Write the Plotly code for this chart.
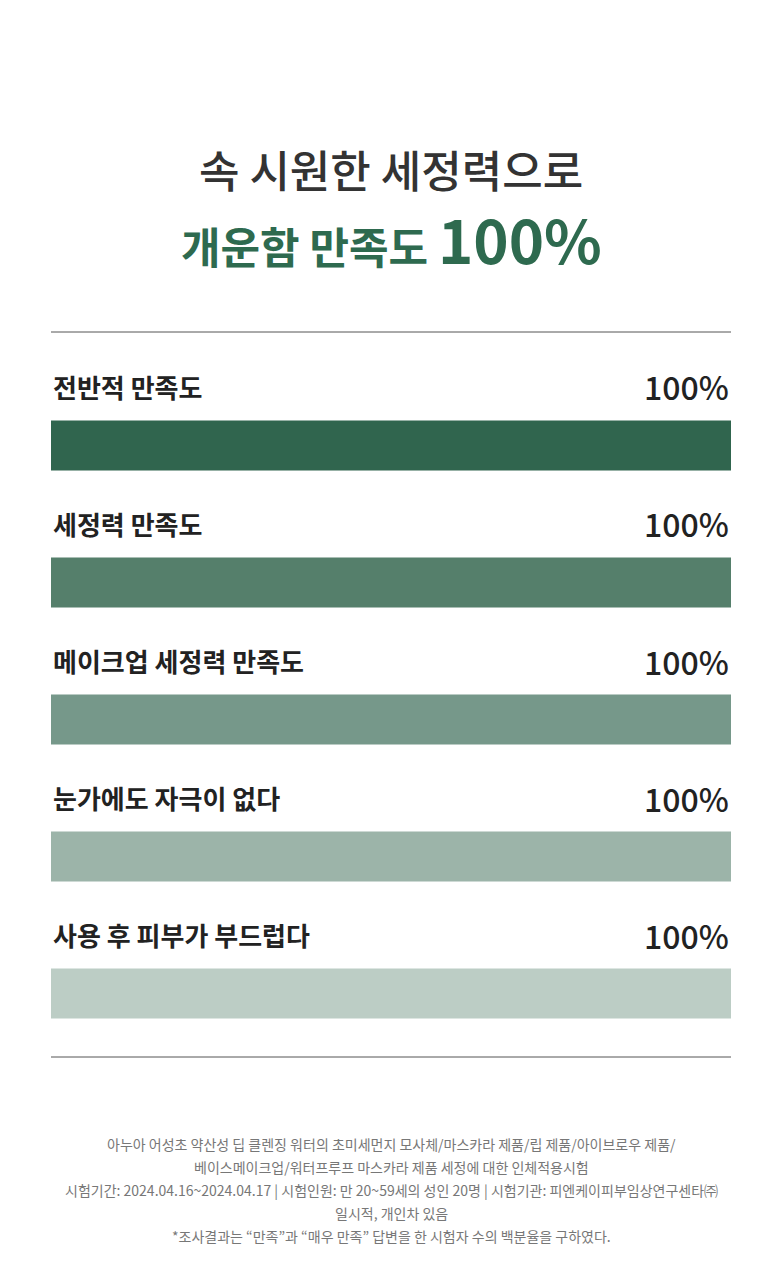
import plotly.graph_objects as go

categories = ["전반적 만족도", "세정력 만족도", "메이크업 세정력 만족도", "눈가에도 자극이 없다", "사용 후 피부가 부드럽다"]
values = [100, 100, 100, 100, 100]
bar_colors = ["#30654e", "#557f6b", "#76988a", "#9cb4a9", "#bccdc5"]

title_line1 = "속 시원한 세정력으로"
title_line2_a = "개운함 만족도 "
title_line2_b = "100%"

footnotes = [
    "아누아 어성초 약산성 딥 클렌징 워터의 초미세먼지 모사체/마스카라 제품/립 제품/아이브로우 제품/",
    "베이스메이크업/워터프루프 마스카라 제품 세정에 대한 인체적용시험",
    "시험기간: 2024.04.16~2024.04.17 | 시험인원: 만 20~59세의 성인 20명 | 시험기관: 피엔케이피부임상연구센타㈜",
    "일시적, 개인차 있음",
    "*조사결과는 “만족”과 “매우 만족” 답변을 한 시험자 수의 백분율을 구하였다.",
]

FONT = "Noto Sans CJK KR"

fig = go.Figure()
fig.add_trace(go.Bar(
    x=values, y=categories, orientation="h", width=0.365,
    marker=dict(color=bar_colors, line=dict(width=0)),
    hoverinfo="skip",
))

annotations = []
for c, v in zip(categories, values):
    annotations.append(dict(
        x=0, xref="paper", y=c, yref="y", xanchor="left", yanchor="middle",
        yshift=59, text=c, showarrow=False,
        font=dict(family=FONT, size=26, color="#222222", weight=600),
    ))
    annotations.append(dict(
        x=v, xref="x", y=c, yref="y", xanchor="right", yanchor="middle",
        yshift=59, text=f"{v}%", showarrow=False,
        font=dict(family=FONT, size=32, color="#222222", weight=500),
    ))

annotations.append(dict(
    x=0.5, xref="paper", y=1, yref="paper", xanchor="center", yanchor="middle",
    yshift=163, text=title_line1, showarrow=False,
    font=dict(family=FONT, size=44, color="#333333", weight=500),
))
annotations.append(dict(
    x=0.5, xref="paper", y=1, yref="paper", xanchor="center", yanchor="middle",
    yshift=95,
    text=f"{title_line2_a}<span style='font-size:60px'>{title_line2_b}</span>",
    showarrow=False,
    font=dict(family=FONT, size=43, color="#2e6a4f", weight=700),
))

for i, t in enumerate(footnotes):
    annotations.append(dict(
        x=0.5, xref="paper", y=0, yref="paper", xanchor="center", yanchor="middle",
        yshift=-87 - 23 * i, text=t, showarrow=False,
        font=dict(family=FONT, size=14, color="#777777"),
    ))

shapes = [
    dict(type="line", xref="paper", yref="paper", x0=0, x1=1, y0=1, y1=1,
         line=dict(color="#555555", width=1)),
    dict(type="line", xref="paper", yref="paper", x0=0, x1=1, y0=0, y1=0,
         line=dict(color="#555555", width=1)),
]

fig.update_layout(
    width=780, height=1280, autosize=False,
    margin=dict(l=51, r=49, t=332, b=223),
    paper_bgcolor="white", plot_bgcolor="white",
    showlegend=False,
    xaxis=dict(range=[0, 100], visible=False, fixedrange=True),
    yaxis=dict(type="category", categoryorder="array", categoryarray=categories,
               range=[4.463, -0.828], autorange=False, visible=False, fixedrange=True),
    annotations=annotations,
    shapes=shapes,
)

fig.write_html("out.html", config={"displayModeBar": False})
